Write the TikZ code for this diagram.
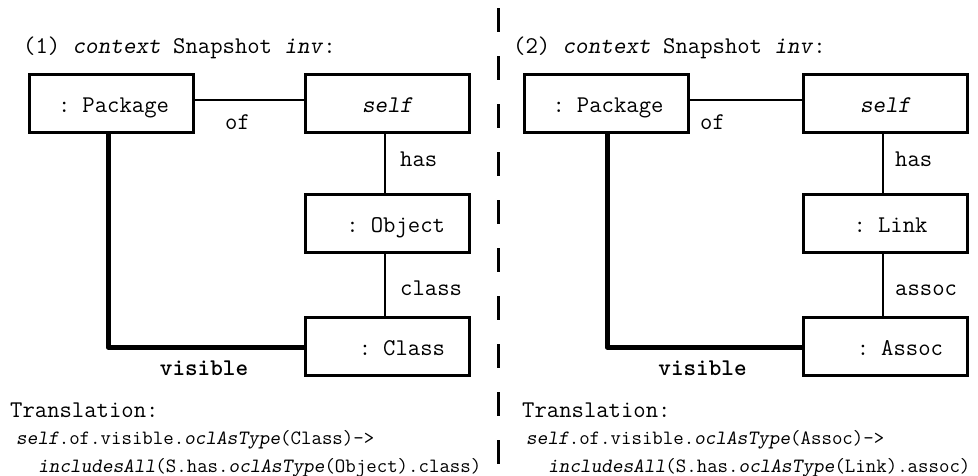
\documentclass[tikz,border=0pt]{standalone}
\usepackage{fontspec}
\renewcommand{\familydefault}{\ttdefault}
\newcommand{\obl}[1]{\textsl{#1}}
\begin{document}
\begin{tikzpicture}[x=1pt,y=-1pt,
  objbox/.style={draw, line width=3pt, fill=white, minimum width=164pt, minimum height=58pt,
    inner sep=0pt, font=\ttfamily\fontsize{24}{27}\selectfont, text height=18pt, text depth=0pt},
  conn/.style={line width=2.5pt},
  vis/.style={line width=5pt, line join=round},
  lbl/.style={inner sep=0pt, font=\ttfamily\fontsize{24}{27}\selectfont},
  code/.style={inner sep=0pt, font=\ttfamily\fontsize{20.3}{23}\selectfont},
  sep/.style={line width=3pt, dash pattern=on 24pt off 24pt}
]
\useasboundingbox (0,0) rectangle (978,475);

% separator
\coordinate (sepTop) at (498,8);
\coordinate (sepBot) at (498,464);
\draw[sep] (sepTop) -- (sepBot);

% ===== left =====
\node[lbl, anchor=base west] (title1) at (23,53) {(1) \obl{context} Snapshot \obl{inv}:};
\node[objbox, text width=115pt, align=right] (pkg1) at (111.5,103) {: Package};
\node[objbox, align=center] (self1) at (387.5,103) {\obl{self}};
\node[objbox, text width=115pt, align=right] (obj1) at (387.5,223) {: Object};
\node[objbox, text width=115pt, align=right] (cls1) at (387.5,346) {: Class};

\draw[conn] ([yshift=3pt]pkg1.east) -- ([yshift=3pt]self1.west);
\draw[conn] ([xshift=-2.5pt]self1.south) -- ([xshift=-2.5pt]obj1.north);
\draw[conn] ([xshift=-2.5pt]obj1.south) -- ([xshift=-2.5pt]cls1.north);
\draw[vis] ([xshift=-3.5pt]pkg1.south) |- ([yshift=-1pt]cls1.west);

\node[lbl, anchor=base] (of1) at (237.5,129) {of};
\node[lbl, anchor=base west] (has1) at (400,166) {has};
\node[lbl, anchor=base west] (class1) at (400,295) {class};
\node[lbl, anchor=base] (visible1) at (204,375) {\textbf{visible}};

\node[lbl, anchor=base west] (trans1) at (10,417) {Translation:};
\node[code, anchor=base west] (code1a) at (16,444) {\obl{self}.of.visible.\obl{oclAsType}(Class)->};
\node[code, anchor=base west] (code1b) at (38,472) {\obl{includesAll}(S.has.\obl{oclAsType}(Object).class)};

% ===== right =====
\node[lbl, anchor=base west] (title2) at (513,53) {(2) \obl{context} Snapshot \obl{inv}:};
\node[objbox, text width=115pt, align=right] (pkg2) at (606,103) {: Package};
\node[objbox, align=center] (self2) at (885.5,103) {\obl{self}};
\node[objbox, text width=84pt, align=right] (link2) at (885.5,223) {: Link};
\node[objbox, text width=115pt, align=right] (assoc2) at (885.5,346) {: Assoc};

\draw[conn] ([yshift=3pt]pkg2.east) -- ([yshift=3pt]self2.west);
\draw[conn] ([xshift=-2.5pt]self2.south) -- ([xshift=-2.5pt]link2.north);
\draw[conn] ([xshift=-2.5pt]link2.south) -- ([xshift=-2.5pt]assoc2.north);
\draw[vis] ([xshift=1pt]pkg2.south) |- ([yshift=-1pt]assoc2.west);

\node[lbl, anchor=base] (of2) at (712.5,129) {of};
\node[lbl, anchor=base west] (has2) at (895,166) {has};
\node[lbl, anchor=base west] (assocl2) at (895,295) {assoc};
\node[lbl, anchor=base] (visible2) at (702.5,375) {\textbf{visible}};

\node[lbl, anchor=base west] (trans2) at (522,417) {Translation:};
\node[code, anchor=base west] (code2a) at (526,444) {\obl{self}.of.visible.\obl{oclAsType}(Assoc)->};
\node[code, anchor=base west] (code2b) at (548,472) {\obl{includesAll}(S.has.\obl{oclAsType}(Link).assoc)};
\end{tikzpicture}
\end{document}
